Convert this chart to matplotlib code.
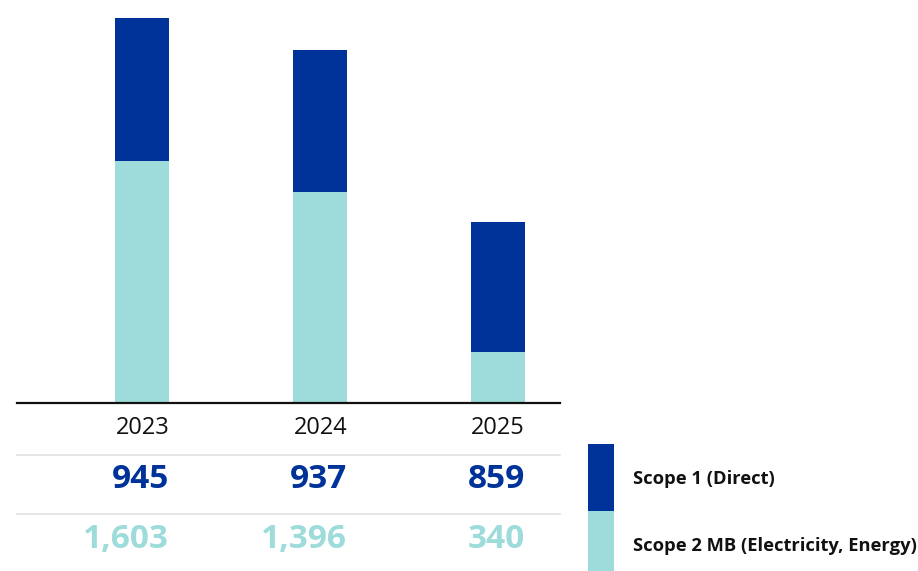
import matplotlib
matplotlib.use("Agg")
import matplotlib.pyplot as plt
from matplotlib.patches import Rectangle
from matplotlib.lines import Line2D
import matplotlib.transforms as mtransforms

# ---- data ----
years = ["2023", "2024", "2025"]
scope1 = [945, 937, 859]
scope2 = [1603, 1396, 340]
labels = ["Scope 1 (Direct)", "Scope 2 MB (Electricity, Energy)"]

BLUE = "#003399"
TEAL = "#9DDCDA"
W, H = 918, 571

plt.rcParams["font.family"] = ["Open Sans", "DejaVu Sans"]

fig = plt.figure(figsize=(W / 100, H / 100), dpi=100)


def fx(px):
    return px / W


def fy(py):
    # pixel row from top -> figure fraction
    return 1 - py / H


# bar axes: baseline at y=403px, spans x 17..560px
ax = fig.add_axes([fx(17), fy(403), fx(560 - 17), 403 / H])
xs = list(range(len(years)))
bw = 0.303
ax.bar(xs, scope2, width=bw, color=TEAL, zorder=2)
ax.bar(xs, scope1, width=bw, bottom=scope2, color=BLUE, zorder=2)
tot_max = max(a + b for a, b in zip(scope1, scope2))
ax.set_ylim(0, tot_max * 403 / 385)
ax.set_xlim(-0.705, 2.348)
for s in ["top", "right", "left"]:
    ax.spines[s].set_visible(False)
ax.spines["bottom"].set_linewidth(1.6)
ax.spines["bottom"].set_color("#111111")
ax.set_xticks([])
ax.set_yticks([])

# table under the bars: x in data coords, y in figure coords
tr = mtransforms.blended_transform_factory(ax.transData, fig.transFigure)
for i, yr in enumerate(years):
    xr = xs[i] + bw / 2
    ax.text(xr, fy(428), yr, transform=tr, ha="right", va="center",
            fontsize=17, color="#111111")
    ax.text(xr, fy(480), f"{scope1[i]:,}", transform=tr, ha="right",
            va="center", fontsize=24, fontweight="bold", color=BLUE)
    ax.text(xr, fy(539), f"{scope2[i]:,}", transform=tr, ha="right",
            va="center", fontsize=24, fontweight="bold", color=TEAL)

for py in (455, 514):
    fig.add_artist(Line2D([fx(17), fx(560)], [fy(py), fy(py)],
                          color="#e2e2e2", lw=1.2))

# legend blocks
fig.add_artist(Rectangle((fx(588), fy(511)), fx(26), (511 - 444) / H,
                         color=BLUE, lw=0))
fig.add_artist(Rectangle((fx(588), fy(571)), fx(26), (571 - 511) / H,
                         color=TEAL, lw=0))
fig.text(fx(633), fy(479), labels[0], ha="left", va="center",
         fontsize=13.2, fontweight="bold", color="#111111")
fig.text(fx(633), fy(546), labels[1], ha="left", va="center",
         fontsize=13.2, fontweight="bold", color="#111111")

fig.savefig("out.png", dpi=100)
